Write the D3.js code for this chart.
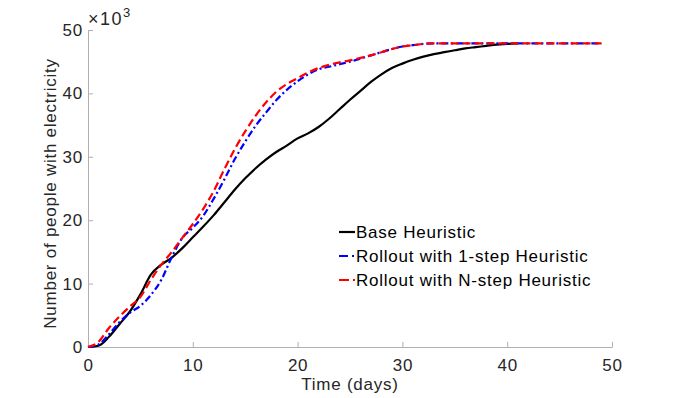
<!DOCTYPE html>
<html>
<head>
<meta charset="utf-8">
<script src="https://cdn.jsdelivr.net/npm/d3@7"></script>
<style>
  body { margin: 0; background: #fff; }
  text { font-family: "Liberation Sans", Arial, sans-serif; letter-spacing: 0.75px; }
</style>
</head>
<body>
<div id="chart"></div>
<script>
// values in thousands of people, one per day
var daysBase = d3.range(0, 42);
var baseHeuristic = [0, 0.2, 1.6, 3.6, 5.6, 8.3, 11.4, 13.0, 14.1, 15.6,
  17.3, 19.0, 20.8, 22.8, 24.8, 26.6, 28.2, 29.6, 30.8, 31.8,
  32.9, 33.7, 34.7, 36.0, 37.5, 39.0, 40.4, 41.8, 43.0, 44.0,
  44.7, 45.3, 45.8, 46.2, 46.5, 46.8, 47.1, 47.3, 47.5, 47.7,
  47.8, 47.9];

var daysRollout = d3.range(0, 50);
var rollout1 = [0, 0.4, 2.0, 3.9, 5.4, 6.5, 8.2, 10.6, 14.2, 17.2,
  18.8, 20.7, 23.4, 26.4, 29.6, 32.4, 34.9, 37.0, 39.0, 40.6,
  41.9, 43.0, 43.8, 44.2, 44.6, 45.0, 45.5, 46.0, 46.5, 47.0,
  47.4, 47.6, 47.8, 47.9, 47.9, 47.9, 47.9, 47.9, 47.9, 47.9,
  47.9, 47.9, 47.9, 47.9, 47.9, 47.9, 47.9, 47.9, 47.9, 47.9];
var rolloutN = [0, 0.8, 3.0, 4.8, 6.4, 7.9, 10.6, 13.0, 15.0, 17.2,
  19.4, 21.8, 24.6, 28.0, 31.2, 34.0, 36.5, 38.6, 40.3, 41.5,
  42.4, 43.3, 44.0, 44.5, 44.9, 45.2, 45.6, 46.0, 46.5, 47.0,
  47.4, 47.6, 47.8, 47.9, 47.9, 47.9, 47.9, 47.9, 47.9, 47.9,
  47.9, 47.9, 47.9, 47.9, 47.9, 47.9, 47.9, 47.9, 47.9, 47.9];

var seriesNames = ["Base Heuristic", "Rollout with 1-step Heuristic", "Rollout with N-step Heuristic"];
var xTicks = [0, 10, 20, 30, 40, 50];
var yTicks = [0, 10, 20, 30, 40, 50];

var width = 675, height = 398;
var margin = {left: 88, right: 63, top: 30, bottom: 51};

var svg = d3.select("#chart").append("svg")
  .attr("width", width)
  .attr("height", height);

var x = d3.scaleLinear().domain([0, 50]).range([margin.left, width - margin.right]);
var y = d3.scaleLinear().domain([0, 50]).range([height - margin.bottom, margin.top]);

var axisColor = "#b0b0b0";
var textColor = "#262626";

// x axis
var gx = svg.append("g")
  .attr("transform", "translate(0," + y(0) + ")")
  .call(d3.axisBottom(x).tickValues(xTicks).tickSizeInner(-5).tickSizeOuter(0).tickPadding(12));
// y axis
var gy = svg.append("g")
  .attr("transform", "translate(" + x(0) + ",0)")
  .call(d3.axisLeft(y).tickValues(yTicks).tickSizeInner(-5).tickSizeOuter(0).tickPadding(5));

[gx, gy].forEach(function(g) {
  g.select(".domain").attr("stroke", axisColor);
  g.selectAll(".tick line").attr("stroke", axisColor);
  g.selectAll(".tick text").attr("fill", textColor).style("font-size", "17px")
    .style("font-family", "'Liberation Sans', Arial, sans-serif");
});

// exponent label
var expo = svg.append("text")
  .attr("x", x(0))
  .attr("y", y(50) - 5)
  .attr("fill", textColor)
  .style("font-size", "18px")
  .style("letter-spacing", "1.5px");
expo.append("tspan").text("\u00d710");
expo.append("tspan").attr("dy", -8).style("font-size", "13px").style("letter-spacing", "0px").text("3");

// axis labels
svg.append("text")
  .attr("x", (x(0) + x(50)) / 2)
  .attr("y", 390)
  .attr("text-anchor", "middle")
  .attr("fill", textColor)
  .style("font-size", "17px")
  .text("Time (days)");

svg.append("text")
  .attr("transform", "translate(50," + ((y(0) + y(50)) / 2 + 5) + ") rotate(-90)")
  .attr("text-anchor", "middle")
  .attr("dy", "0.35em")
  .attr("fill", textColor)
  .style("font-size", "17px")
  .text("Number of people with electricity");

// lines
var line = d3.line()
  .x(function(d) { return x(d[0]); })
  .y(function(d) { return y(d[1]); })
  .curve(d3.curveMonotoneX);

var series = [
  {name: seriesNames[0], days: daysBase, vals: baseHeuristic, color: "#000000", dash: null},
  {name: seriesNames[1], days: daysRollout, vals: rollout1, color: "#0000ff", dash: "7,3,2,3"},
  {name: seriesNames[2], days: daysRollout, vals: rolloutN, color: "#ff0000", dash: "8,4"}
];

series.forEach(function(s) {
  svg.append("path")
    .datum(s.days.map(function(d, i) { return [d, s.vals[i]]; }))
    .attr("d", line)
    .attr("fill", "none")
    .attr("stroke", s.color)
    .attr("stroke-width", 2.2)
    .attr("stroke-dasharray", s.dash);
});

// legend
var legend = svg.append("g").attr("transform", "translate(339,232)");
series.forEach(function(s, i) {
  var row = legend.append("g").attr("transform", "translate(0," + (i * 24) + ")");
  row.append("line")
    .attr("x1", 0).attr("x2", 16)
    .attr("stroke", s.color)
    .attr("stroke-width", 2.2)
    .attr("stroke-dasharray", s.dash == null ? null : (i == 1 ? "9,4,2,4" : "10,4"));
  row.append("text")
    .attr("x", 17)
    .attr("dy", "0.35em")
    .attr("fill", "#000")
    .style("font-size", "17px")
    .text(s.name);
});
</script>
</body>
</html>
